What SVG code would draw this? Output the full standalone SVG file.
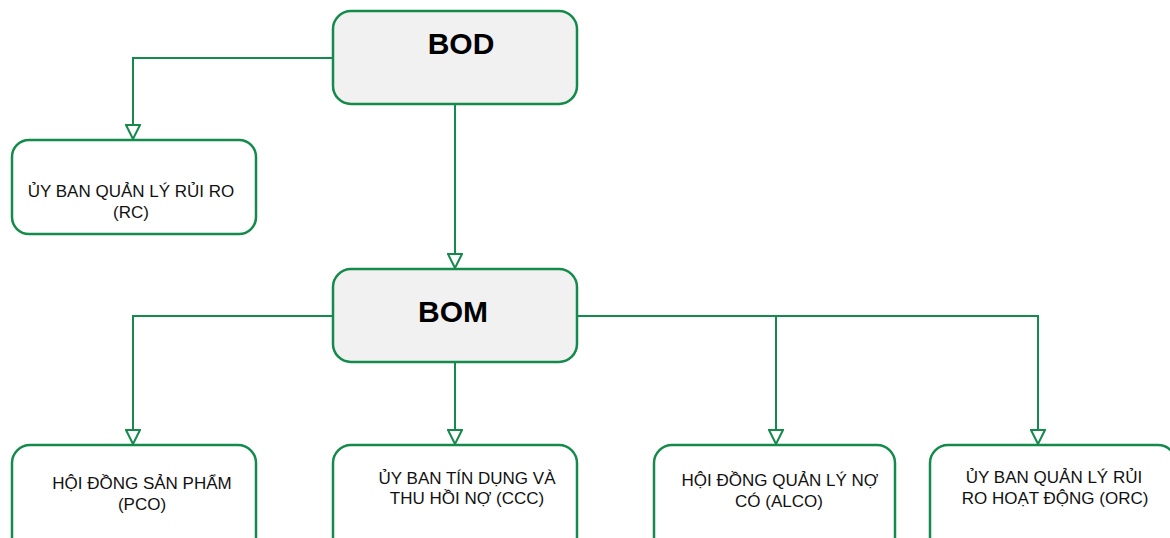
<svg xmlns="http://www.w3.org/2000/svg" width="1170" height="538" viewBox="0 0 1170 538">
<style>
.box{fill:#ffffff;stroke:#148a4b;stroke-width:2.5}
.top{fill:#f1f1f1;stroke:#148a4b;stroke-width:2.5}
.conn{fill:none;stroke:#148a4b;stroke-width:2}
.t{font-family:"Liberation Sans",Arial,sans-serif;font-size:17px;fill:#111;text-anchor:middle}
.b{font-family:"Liberation Sans",Arial,sans-serif;font-size:30px;font-weight:bold;fill:#000;text-anchor:middle}
</style>
<defs>
<marker id="arr" markerWidth="18" markerHeight="16" refX="16" refY="8" orient="auto" markerUnits="userSpaceOnUse">
<path d="M2,1 L16,8 L2,15 Z" fill="#ffffff" stroke="#148a4b" stroke-width="2"/>
</marker>
</defs>
<rect width="1170" height="538" fill="#ffffff"/>
<g id="connectors">
<path class="conn" d="M333,58 H133 V139" marker-end="url(#arr)"/>
<path class="conn" d="M455,104 V268" marker-end="url(#arr)"/>
<path class="conn" d="M333,316 H133 V444" marker-end="url(#arr)"/>
<path class="conn" d="M455,362 V444" marker-end="url(#arr)"/>
<path class="conn" d="M577,316 H1038 V444" marker-end="url(#arr)"/>
<path class="conn" d="M776,316 V444" marker-end="url(#arr)"/>
</g>
<g id="bod">
<rect class="top" x="333" y="11" width="244" height="93" rx="18"/>
<text class="b" x="461" y="54">BOD</text>
</g>
<g id="rc">
<rect class="box" x="12" y="140" width="244" height="94" rx="17"/>
<text class="t" x="131" y="197">ỦY BAN QUẢN LÝ RỦI RO</text>
<text class="t" x="131" y="218">(RC)</text>
</g>
<g id="bom">
<rect class="top" x="333" y="269" width="244" height="93" rx="18"/>
<text class="b" x="453" y="322">BOM</text>
</g>
<g id="pco">
<rect class="box" x="12" y="445" width="244" height="110" rx="18"/>
<text class="t" x="142" y="489">HỘI ĐỒNG SẢN PHẨM</text>
<text class="t" x="142" y="510">(PCO)</text>
</g>
<g id="ccc">
<rect class="box" x="333" y="445" width="244" height="110" rx="18"/>
<text class="t" x="467" y="484">ỦY BAN TÍN DỤNG VÀ</text>
<text class="t" x="467" y="504">THU HỒI NỢ (CCC)</text>
</g>
<g id="alco">
<rect class="box" x="654" y="445" width="241" height="110" rx="18"/>
<text class="t" x="780" y="486">HỘI ĐỒNG QUẢN LÝ NỢ</text>
<text class="t" x="779" y="507">CÓ (ALCO)</text>
</g>
<g id="orc">
<rect class="box" x="930" y="445" width="246" height="110" rx="18"/>
<text class="t" x="1054" y="483">ỦY BAN QUẢN LÝ RỦI</text>
<text class="t" x="1055" y="504">RO HOẠT ĐỘNG (ORC)</text>
</g>
</svg>
